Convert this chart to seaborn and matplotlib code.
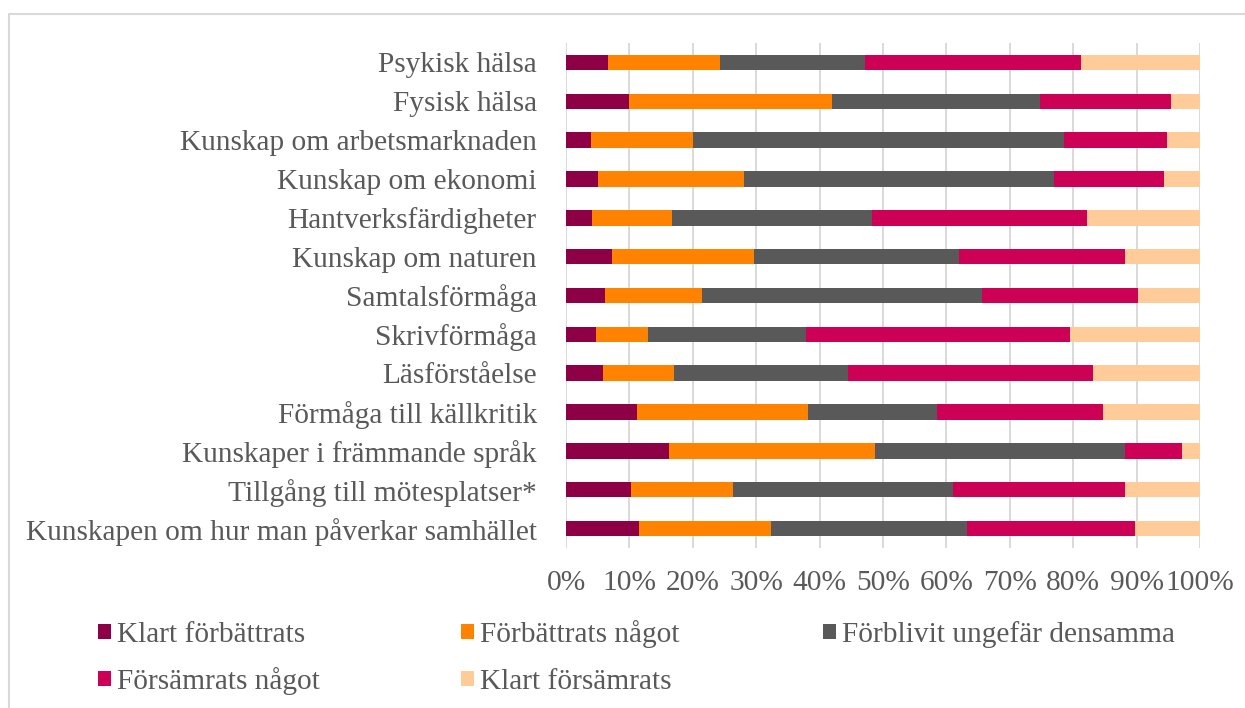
import matplotlib

matplotlib.use("Agg")

import matplotlib.pyplot as plt
import pandas as pd
import seaborn as sns
from matplotlib.patches import Patch, Rectangle

# ---------------------------------------------------------------------
# Data (percent per answer category)
# ---------------------------------------------------------------------
categories = [
    "Psykisk hälsa",
    "Fysisk hälsa",
    "Kunskap om arbetsmarknaden",
    "Kunskap om ekonomi",
    "Hantverksfärdigheter",
    "Kunskap om naturen",
    "Samtalsförmåga",
    "Skrivförmåga",
    "Läsförståelse",
    "Förmåga till källkritik",
    "Kunskaper i främmande språk",
    "Tillgång till mötesplatser*",
    "Kunskapen om hur man påverkar samhället",
]

klart_forbattrats = [6.7, 9.9, 3.9, 5.1, 4.1, 7.3, 6.1, 4.7, 5.8, 11.2, 16.3, 10.2, 11.5]
forbattrats_nagot = [17.6, 32.0, 16.2, 22.9, 12.6, 22.3, 15.3, 8.3, 11.3, 26.9, 32.4, 16.2, 20.9]
forblivit_samma = [22.9, 32.9, 58.5, 48.9, 31.5, 32.4, 44.2, 24.9, 27.4, 20.4, 39.5, 34.6, 30.9]
forsamrats_nagot = [34.1, 20.7, 16.2, 17.4, 33.9, 26.1, 24.6, 41.6, 38.6, 26.2, 9.0, 27.2, 26.5]
klart_forsamrats = [18.7, 4.5, 5.2, 5.7, 17.9, 11.9, 9.8, 20.5, 16.9, 15.3, 2.8, 11.8, 10.2]

series_names = [
    "Klart förbättrats",
    "Förbättrats något",
    "Förblivit ungefär densamma",
    "Försämrats något",
    "Klart försämrats",
]
series_colors = ["#8E0045", "#FF8200", "#595959", "#CC0055", "#FFCC99"]

x_ticks = [0, 10, 20, 30, 40, 50, 60, 70, 80, 90, 100]

TEXT_COLOR = "#595959"
GRID_COLOR = "#D9D9D9"
FONT_SIZE = 21.2


def main() -> None:
    sns.set_theme(style="white")
    plt.rcParams["font.family"] = ["Liberation Serif", "DejaVu Serif"]

    df = pd.DataFrame(
        {
            series_names[0]: klart_forbattrats,
            series_names[1]: forbattrats_nagot,
            series_names[2]: forblivit_samma,
            series_names[3]: forsamrats_nagot,
            series_names[4]: klart_forsamrats,
        },
        index=categories,
    )
    df = df.div(df.sum(axis=1), axis=0) * 100
    cum = df.cumsum(axis=1)

    fig = plt.figure(figsize=(12.45, 7.08), dpi=100)
    ax = fig.add_axes([566 / 1245, 1 - 548 / 708, 634 / 1245, 505 / 708])

    # stacked bars: draw cumulative totals from the widest to the narrowest
    for name, color in reversed(list(zip(series_names, series_colors))):
        plot_df = pd.DataFrame({"kategori": categories, "andel": cum[name].values})
        sns.barplot(
            data=plot_df,
            x="andel",
            y="kategori",
            orient="h",
            color=color,
            saturation=1,
            width=0.4,
            linewidth=0,
            ax=ax,
        )

    ax.set_xlim(0, 100)
    ax.set_xticks(x_ticks)
    ax.set_xticklabels([f"{v}%" for v in x_ticks])
    ax.set_xlabel("")
    ax.set_ylabel("")
    ax.set_axisbelow(True)
    ax.xaxis.grid(True, color=GRID_COLOR, linewidth=1.4)
    ax.yaxis.grid(False)
    for side in ["top", "right", "bottom", "left"]:
        ax.spines[side].set_visible(False)
    ax.tick_params(axis="y", length=0, pad=21, labelsize=FONT_SIZE, labelcolor=TEXT_COLOR)
    ax.tick_params(axis="x", length=0, pad=16, labelsize=FONT_SIZE, labelcolor=TEXT_COLOR)

    # legend: one entry per cell so that the baselines line up in each row
    cells = [(0, 98, 0), (1, 461, 0), (2, 823, 0), (3, 98, 1), (4, 461, 1)]
    row_bottom = [648, 695]
    for i, x_px, row in cells:
        leg = fig.legend(
            [Patch(facecolor=series_colors[i], edgecolor="none")],
            [series_names[i]],
            loc="lower left",
            bbox_to_anchor=(x_px / 1245, 1 - row_bottom[row] / 708),
            frameon=False,
            fontsize=FONT_SIZE,
            handlelength=0.45,
            handleheight=0.45,
            handletextpad=0.2,
            borderpad=0,
            borderaxespad=0,
        )
        for t in leg.get_texts():
            t.set_color(TEXT_COLOR)

    # thin outer frame, cut off at the right and bottom like the reference
    frame = Rectangle(
        (9 / 1245, -0.1),
        1.2,
        1.1 - 14.5 / 708,
        transform=fig.transFigure,
        fill=False,
        edgecolor=GRID_COLOR,
        linewidth=1.5,
    )
    fig.add_artist(frame)

    fig.savefig("out.png", dpi=100)


if __name__ == "__main__":
    main()
